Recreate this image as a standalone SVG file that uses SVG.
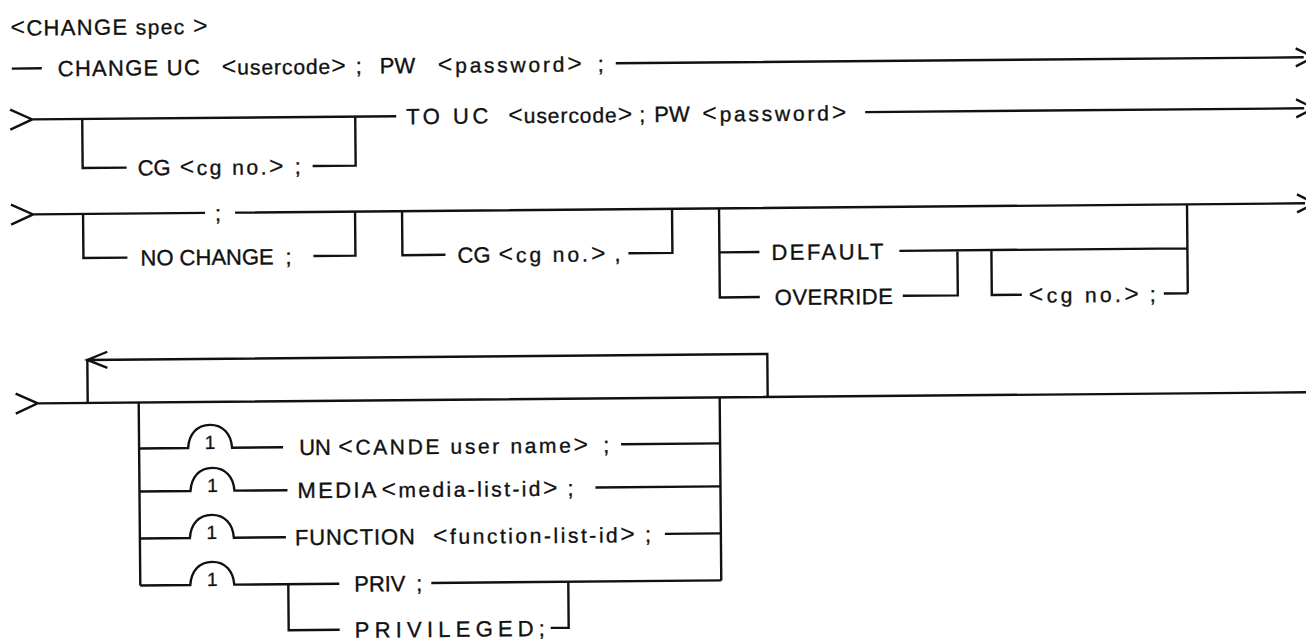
<svg xmlns="http://www.w3.org/2000/svg" width="1306" height="641" viewBox="0 0 1306 641">
  <style>
    .t { font-family: "Liberation Sans Narrow", "Liberation Sans", Arial, sans-serif; font-size: 22px; fill: #111; stroke: #111; stroke-width: 0.35px; }
    .lc { font-size: 21px; }
    .br { font-size: 25px; stroke-width: 0.1px; }
    .one { font-family: "Liberation Sans Narrow", "Liberation Sans", Arial, sans-serif; font-size: 19px; fill: #111; stroke: #111; stroke-width: 0.3px; text-anchor: middle; }
    .ln { fill: none; stroke: #111; stroke-width: 2.4; stroke-linejoin: miter; }
  </style>
  <rect width="1306" height="641" fill="#fff"/>
  <g transform="rotate(-0.5 653 320)">
    <!-- railroad connectors -->
    <g id="connectors" class="ln">
      <!-- row 1 -->
      <path d="M14 63 H44 M618 63 H1306 M1298 54 L1316 63 L1298 72"/>
      <!-- row 2 -->
      <path d="M12 104 L34 114 L12 124 M34 114 H398 M867 114 H1306 M1298 105 L1316 114 L1298 123"/>
      <path d="M84 114 V163 H128 M314 163 H357 V114"/>
      <!-- row 3 -->
      <path d="M12 199 L34 209 L12 219 M34 209 H206 M236 209 H1306 M1298 200 L1316 209 L1298 218"/>
      <path d="M84 209 V253 H128 M314 253 H356 V209"/>
      <path d="M403 209 V253 H446 M629 253 H673 V209"/>
      <path d="M720 209 V298 H760 M720 253 H760 M900 253 H1188 M1188 209 V298 M903 298 H958 V253 M992 253 V298 H1022 M1164 298 H1188"/>
      <!-- row 4: repeat loop and option list -->
      <path d="M15 388 L37 398 L15 408 M37 398 H1306"/>
      <path d="M87 398 V355 H767 V398 M107 347 L87 355 L107 363"/>
      <path d="M138 398 V581 M719 398 V581"/>
      <path d="M138 444 H187 C188 430 196 421 209 421 C222 421 230 430 231 444 H282 M620 444 H719"/>
      <path d="M138 487 H189 C190 473 198 464 211 464 C224 464 232 473 233 487 H286 M594 487 H719"/>
      <path d="M138 534 H188 C189 520 197 511 210 511 C223 511 231 520 232 534 H284 M663 534 H719"/>
      <path d="M138 581 H188 C189 567 197 558 210 558 C223 558 231 567 232 581 H337 M429 581 H719"/>
      <path d="M286 581 V627 H337 M548 627 H566 V581"/>
    </g>

    <g id="title">
      <text class="t" x="13" y="30" textLength="197" lengthAdjust="spacing"><tspan class="br">&lt;</tspan>CHANGE <tspan class="lc">spec</tspan> <tspan class="br">&gt;</tspan></text>
    </g>

    <g id="change-uc">
      <text class="t" x="60" y="71" textLength="142" lengthAdjust="spacing">CHANGE UC</text>
      <text class="t" x="224" y="71" textLength="124" lengthAdjust="spacing"><tspan class="br">&lt;</tspan><tspan class="lc">usercode</tspan><tspan class="br">&gt;</tspan></text>
      <text class="t" x="358" y="71">;</text>
      <text class="t" x="382" y="71">PW</text>
      <text class="t" x="440" y="71" textLength="144" lengthAdjust="spacing"><tspan class="br">&lt;</tspan><tspan class="lc">password</tspan><tspan class="br">&gt;</tspan></text>
      <text class="t" x="600" y="71">;</text>
    </g>

    <g id="to-uc">
      <text class="t" x="408" y="122" textLength="82" lengthAdjust="spacing">TO UC</text>
      <text class="t" x="510" y="122" textLength="124" lengthAdjust="spacing"><tspan class="br">&lt;</tspan><tspan class="lc">usercode</tspan><tspan class="br">&gt;</tspan></text>
      <text class="t" x="641" y="122">;</text>
      <text class="t" x="656" y="122">PW</text>
      <text class="t" x="704" y="122" textLength="144" lengthAdjust="spacing"><tspan class="br">&lt;</tspan><tspan class="lc">password</tspan><tspan class="br">&gt;</tspan></text>
    </g>

    <g id="cg-1">
      <text class="t" x="139" y="171">CG</text>
      <text class="t" x="181" y="171" textLength="104" lengthAdjust="spacing"><tspan class="br">&lt;</tspan><tspan class="lc">cg no.</tspan><tspan class="br">&gt;</tspan></text>
      <text class="t" x="296" y="171">;</text>
    </g>

    <g id="semicolon">
      <text class="t" x="216" y="217">;</text>
    </g>

    <g id="no-change">
      <text class="t" x="141" y="261">NO CHANGE</text>
      <text class="t" x="286" y="261">;</text>
    </g>

    <g id="cg-2">
      <text class="t" x="458" y="261">CG</text>
      <text class="t" x="499" y="261" textLength="107" lengthAdjust="spacing"><tspan class="br">&lt;</tspan><tspan class="lc">cg no.</tspan><tspan class="br">&gt;</tspan></text>
      <text class="t" x="615" y="261">,</text>
    </g>

    <g id="default">
      <text class="t" x="772" y="261" textLength="112" lengthAdjust="spacing">DEFAULT</text>
    </g>

    <g id="override">
      <text class="t" x="775" y="306" textLength="118" lengthAdjust="spacing">OVERRIDE</text>
    </g>

    <g id="cg-3">
      <text class="t" x="1029" y="306" textLength="110" lengthAdjust="spacing"><tspan class="br">&lt;</tspan><tspan class="lc">cg no.</tspan><tspan class="br">&gt;</tspan></text>
      <text class="t" x="1150" y="306">;</text>
    </g>

    <g id="un">
      <text class="one" x="209" y="445">1</text>
      <text class="t" x="298" y="452">UN</text>
      <text class="t" x="337" y="452" textLength="250" lengthAdjust="spacing"><tspan class="br">&lt;</tspan><tspan class="lc">CANDE user name</tspan><tspan class="br">&gt;</tspan></text>
      <text class="t" x="602" y="452">;</text>
    </g>

    <g id="media">
      <text class="one" x="211" y="488">1</text>
      <text class="t" x="296" y="495" textLength="79" lengthAdjust="spacing">MEDIA</text>
      <text class="t" x="380" y="495" textLength="176" lengthAdjust="spacing"><tspan class="br">&lt;</tspan><tspan class="lc">media-list-id</tspan><tspan class="br">&gt;</tspan></text>
      <text class="t" x="566" y="495">;</text>
    </g>

    <g id="function">
      <text class="one" x="210" y="535">1</text>
      <text class="t" x="293" y="542" textLength="120" lengthAdjust="spacing">FUNCTION</text>
      <text class="t" x="431" y="542" textLength="202" lengthAdjust="spacing"><tspan class="br">&lt;</tspan><tspan class="lc">function-list-id</tspan><tspan class="br">&gt;</tspan></text>
      <text class="t" x="643" y="542">;</text>
    </g>

    <g id="priv">
      <text class="one" x="210" y="582">1</text>
      <text class="t" x="352" y="589" textLength="51" lengthAdjust="spacing">PRIV</text>
      <text class="t" x="414" y="589">;</text>
    </g>

    <g id="privileged">
      <text class="t" x="352" y="635" textLength="179" lengthAdjust="spacing">PRIVILEGED</text>
      <text class="t" x="536" y="635">;</text>
    </g>
  </g>
</svg>
